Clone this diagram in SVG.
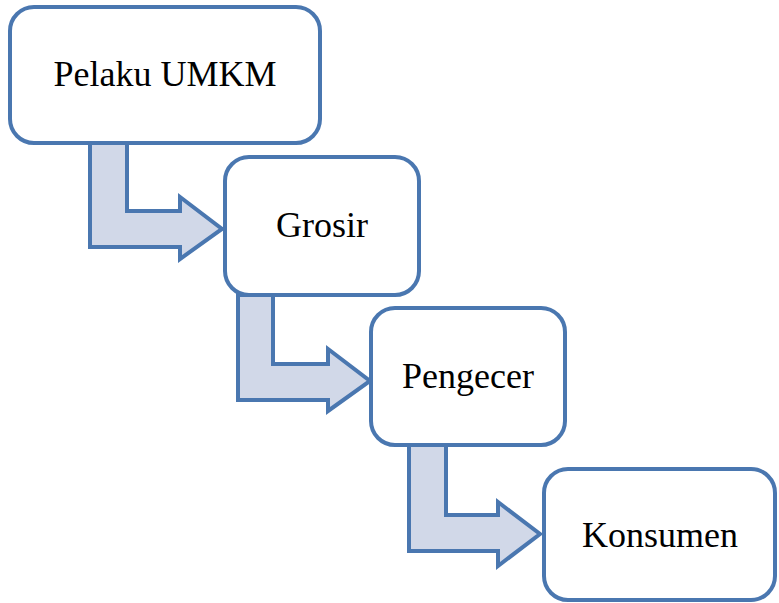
<svg xmlns="http://www.w3.org/2000/svg" width="779" height="603" viewBox="0 0 779 603">
<style>
.box{fill:#ffffff;stroke:#4A77B0;stroke-width:4}
.arr{fill:#D1D8E8;stroke:#4A77B0;stroke-width:4;stroke-linejoin:miter}
.lbl{font-family:"Liberation Serif","Times New Roman",serif;font-size:36px;fill:#000;text-anchor:middle}
</style>
<rect width="779" height="603" fill="#ffffff"/>
<g id="connectors">
<path class="arr" d="M90,143 L127,143 L127,211 L180,211 L180,197 L222,229 L180,259 L180,247 L90,247 Z"/>
<path class="arr" d="M238,295 L273,295 L273,364 L328,364 L328,349 L370,381 L328,411 L328,400 L238,400 Z"/>
<path class="arr" d="M409,445 L446,445 L446,515 L498,515 L498,502 L540,534 L498,566 L498,551 L409,551 Z"/>
</g>
<g id="node-pelaku">
<rect class="box" x="10" y="7" width="310" height="136" rx="24"/>
<text class="lbl" x="165" y="86">Pelaku UMKM</text>
</g>
<g id="node-grosir">
<rect class="box" x="225" y="157" width="194" height="138" rx="24"/>
<text class="lbl" x="322" y="237">Grosir</text>
</g>
<g id="node-pengecer">
<rect class="box" x="371" y="308" width="194" height="137" rx="24"/>
<text class="lbl" x="468" y="388">Pengecer</text>
</g>
<g id="node-konsumen">
<rect class="box" x="544" y="469" width="231" height="131" rx="24"/>
<text class="lbl" x="660" y="547">Konsumen</text>
</g>
</svg>
